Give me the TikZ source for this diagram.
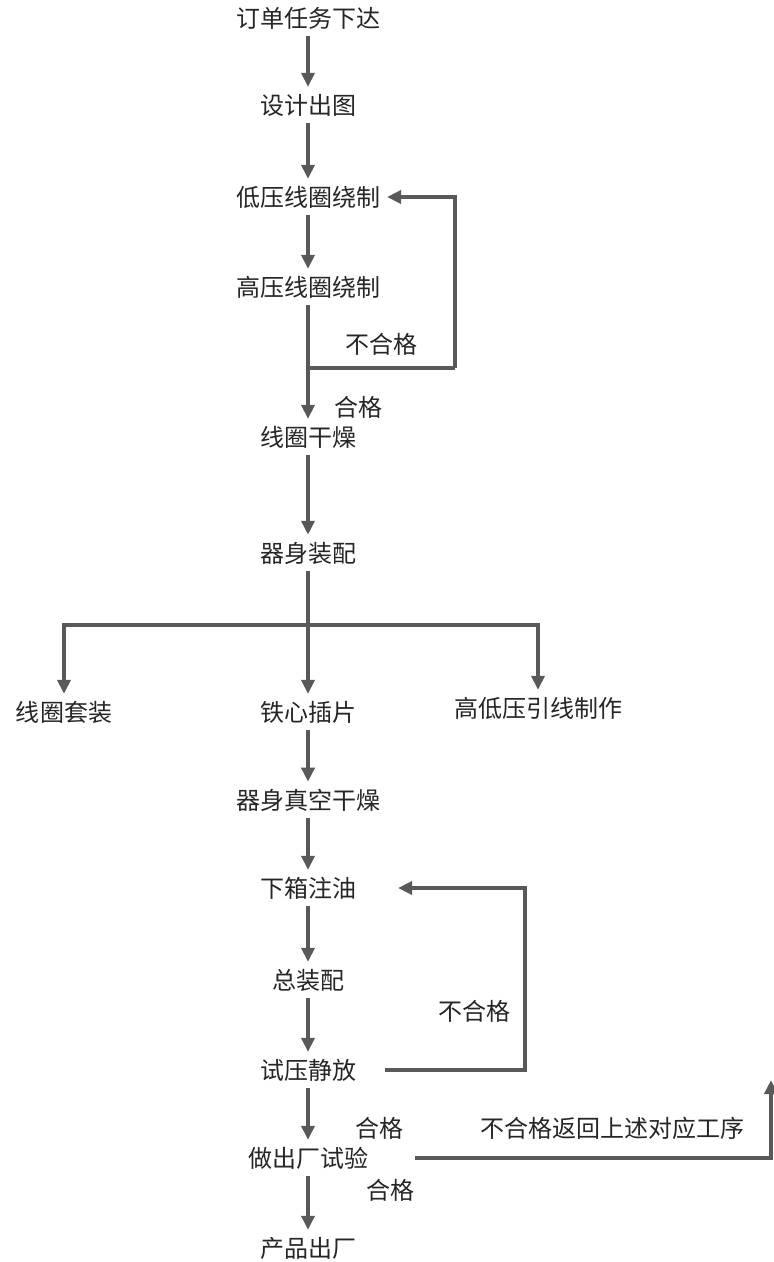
\documentclass[tikz,border=0pt]{standalone}
\usepackage{fontspec}
\setmainfont{Noto Sans CJK SC}
\usetikzlibrary{arrows.meta,positioning}
\tikzset{
  stage/.style={font=\fontsize{12}{14}\selectfont, text=black!85},
  link/.style={->, draw=black!65, line width=1.8pt},
  >={Triangle[width=6.5pt,length=7pt]}
}
\begin{document}
\begin{tikzpicture}[node distance=45pt]
\path[use as bounding box, fill=white] (0,0) rectangle (386.5pt,-631pt);
\node (order) [stage] at (154pt,-9pt) {订单任务下达};
\node (design) [stage, below of=order, node distance=43.5pt] {设计出图};
\node (lvcoil) [stage, below of=design, node distance=46pt] {低压线圈绕制};
\node (hvcoil) [stage, below of=lvcoil] {高压线圈绕制};
\node (coildry) [stage, below of=hvcoil, node distance=75pt] {线圈干燥};
\node (assy) [stage, below of=coildry, node distance=58pt] {器身装配};
\node (core) [stage, below of=assy, node distance=79.5pt] {铁心插片};
\node (wind) [stage, left of=core, node distance=122pt] {线圈套装};
\node (lead) [stage, right of=core, node distance=115pt, yshift=2pt] {高低压引线制作};
\node (vacdry) [stage, below of=core, node distance=44pt] {器身真空干燥};
\node (oilfill) [stage, below of=vacdry, node distance=44pt] {下箱注油};
\node (final) [stage, below of=oilfill, node distance=46pt] {总装配};
\node (hold) [stage, below of=final] {试压静放};
\node (exam) [stage, below of=hold, node distance=44pt] {做出厂试验};
\node (ship) [stage, below of=exam] {产品出厂};
\coordinate[below of=hvcoil, node distance=40.5pt] (fail1);
\coordinate[right of=fail1, node distance=73.5pt] (turn1);
\coordinate[below of=assy, node distance=36pt] (bus);
\coordinate[right of=oilfill, node distance=108.5pt] (turn2);
\coordinate[right of=exam, node distance=231.5pt] (back);
\coordinate[above of=back, node distance=39pt] (backup);
\node (pass1) [stage, below of=fail1, node distance=19.5pt, xshift=25pt] {合格};
\node (pass2) [stage, above of=exam, node distance=15pt, xshift=35.5pt] {合格};
\node (pass3) [stage, below of=exam, node distance=16pt, xshift=41pt] {合格};
\draw[link] (order) -- (design);
\draw[link] (design) -- (lvcoil);
\draw[link] (lvcoil) -- (hvcoil);
\draw[link] (hvcoil) -- (coildry);
\draw[link, -] (fail1) -- node[stage, above, yshift=2pt] (fail1 label) {不合格} (turn1);
\draw[link] (turn1) |- (lvcoil);
\draw[link] (coildry) -- (assy);
\draw[link] (assy) -- (core);
\draw[link] (bus) -| (wind);
\draw[link] (bus) -| (lead);
\draw[link] (core) -- (vacdry);
\draw[link] (vacdry) -- (oilfill);
\draw[link] (oilfill) -- (final);
\draw[link] (final) -- (hold);
\draw[link, shorten <=11pt, shorten >=17.5pt] (hold) -| node[stage, pos=0.66, left, xshift=-3pt] (fail2 label) {不合格} (turn2) -- (oilfill);
\draw[link] (hold) -- (exam);
\draw[link, shorten <=20pt] (exam) -- node[stage, pos=0.6, above, yshift=5pt] (back label) {不合格返回上述对应工序} (back) -- (backup);
\draw[link] (exam) -- (ship);
\end{tikzpicture}
\end{document}
